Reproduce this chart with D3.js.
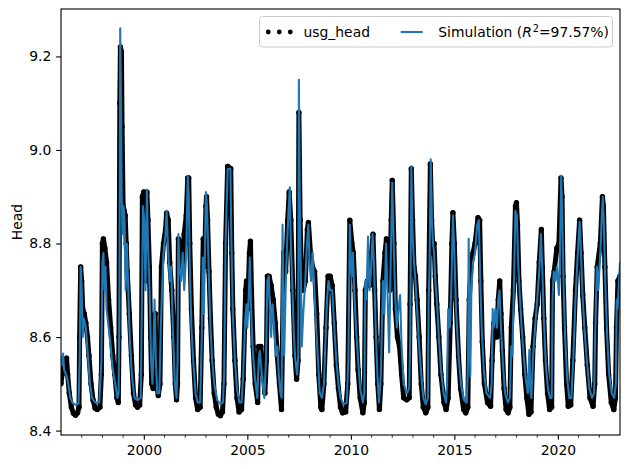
<!DOCTYPE html>
<html>
<head>
<script src="https://cdnjs.cloudflare.com/ajax/libs/d3/7.8.5/d3.min.js"></script>
<style>
  body { margin: 0; background: #fff; }
  svg { display: block; font-family: "DejaVu Sans", sans-serif; }
</style>
</head>
<body>
<div id="vis"></div>
<script>
const obsYear = [
  1996.00,1996.05,1996.12,1996.20,1996.27,1996.32,1996.40,1996.50,1996.60,1996.70,1996.80,1996.87,1996.90,1996.95,
  1997.00,1997.05,1997.12,1997.20,1997.28,1997.35,1997.45,1997.55,1997.65,1997.75,1997.88,1997.95,
  1998.00,1998.05,1998.12,1998.20,1998.30,1998.40,1998.50,1998.60,1998.70,1998.77,1998.80,1998.84,1998.87,1998.92,1998.95,
  1999.00,1999.05,1999.10,1999.15,1999.20,1999.30,1999.40,1999.50,1999.60,1999.70,1999.80,1999.88,1999.93,
  2000.00,2000.05,2000.10,2000.15,2000.20,2000.27,2000.33,2000.38,2000.45,2000.50,2000.55,2000.60,2000.70,2000.78,2000.85,2000.95,
  2001.05,2001.10,2001.18,2001.25,2001.35,2001.45,2001.52,2001.58,2001.63,2001.67,2001.75,2001.85,2001.95,
  2002.05,2002.12,2002.17,2002.22,2002.30,2002.40,2002.50,2002.60,2002.72,2002.80,2002.87,2002.93,
  2003.00,2003.03,2003.08,2003.15,2003.22,2003.30,2003.40,2003.50,2003.60,2003.70,2003.80,2003.87,2003.95,
  2004.05,2004.20,2004.25,2004.30,2004.40,2004.50,2004.60,2004.72,2004.80,2004.92,2004.96,
  2005.02,2005.10,2005.15,2005.20,2005.28,2005.38,2005.50,2005.55,2005.65,2005.75,2005.85,2005.92,2005.97,
  2006.05,2006.15,2006.25,2006.35,2006.45,2006.55,2006.65,2006.70,2006.75,2006.85,2006.95,
  2007.02,2007.10,2007.20,2007.30,2007.38,2007.45,2007.49,2007.55,2007.62,2007.70,2007.80,2007.90,2007.95,
  2008.05,2008.15,2008.25,2008.35,2008.45,2008.55,2008.60,2008.70,2008.80,2008.90,
  2009.00,2009.10,2009.20,2009.30,2009.40,2009.50,2009.60,2009.75,2009.85,2009.95,
  2010.05,2010.12,2010.20,2010.28,2010.35,2010.45,2010.58,2010.65,2010.70,2010.80,2010.90,
  2011.00,2011.07,2011.15,2011.22,2011.30,2011.38,2011.45,2011.55,2011.65,2011.72,2011.80,2011.88,2011.95,
  2012.00,2012.08,2012.15,2012.25,2012.35,2012.45,2012.55,2012.70,2012.82,2012.86,2012.92,2012.98,
  2013.05,2013.12,2013.20,2013.30,2013.40,2013.50,2013.62,2013.72,2013.76,2013.84,2013.90,2013.97,
  2014.02,2014.08,2014.15,2014.25,2014.35,2014.50,2014.60,2014.70,2014.80,2014.88,2014.93,
  2015.00,2015.08,2015.20,2015.30,2015.45,2015.55,2015.65,2015.72,2015.80,2015.90,
  2016.00,2016.14,2016.22,2016.28,2016.35,2016.45,2016.60,2016.75,2016.82,2016.90,2016.98,
  2017.05,2017.12,2017.19,2017.25,2017.32,2017.40,2017.50,2017.60,2017.68,2017.75,2017.85,2017.95,
  2018.00,2018.05,2018.12,2018.20,2018.30,2018.40,2018.50,2018.60,2018.70,2018.80,2018.90,
  2019.00,2019.10,2019.20,2019.25,2019.32,2019.40,2019.50,2019.60,2019.70,2019.74,2019.82,2019.95,
  2020.05,2020.15,2020.20,2020.25,2020.32,2020.42,2020.50,2020.62,2020.72,2020.85,2020.95,
  2021.05,2021.12,2021.20,2021.30,2021.42,2021.55,2021.70,2021.78,2021.82,2021.90,
  2022.05,2022.15,2022.20,2022.27,2022.35,2022.45,2022.58,2022.70,2022.78,2022.83,2022.90,2023.00
];
const obsHead = [
  8.50,8.52,8.54,8.55,8.555,8.52,8.48,8.45,8.437,8.433,8.438,8.45,8.60,8.75,
  8.72,8.66,8.65,8.63,8.60,8.56,8.50,8.465,8.448,8.445,8.45,8.52,
  8.80,8.81,8.79,8.76,8.68,8.62,8.56,8.52,8.47,8.46,8.60,9.10,9.22,9.21,9.05,
  8.88,8.87,8.86,8.80,8.74,8.65,8.56,8.48,8.455,8.45,8.455,8.52,8.90,
  8.91,8.80,8.72,8.91,8.85,8.75,8.60,8.50,8.49,8.64,8.65,8.50,8.475,8.50,8.75,8.80,
  8.83,8.865,8.85,8.76,8.70,8.60,8.50,8.466,8.50,8.81,8.80,8.75,8.82,
  8.86,8.94,8.94,8.80,8.66,8.55,8.47,8.445,8.45,8.62,8.81,8.75,
  8.88,8.90,8.85,8.74,8.64,8.55,8.48,8.45,8.435,8.432,8.44,8.50,8.80,
  8.965,8.96,8.78,8.66,8.55,8.47,8.44,8.445,8.51,8.70,8.72,
  8.66,8.78,8.805,8.70,8.58,8.50,8.46,8.58,8.58,8.53,8.48,8.55,8.73,
  8.73,8.71,8.68,8.63,8.56,8.50,8.445,8.60,8.78,8.74,8.85,
  8.91,8.85,8.70,8.56,8.51,8.55,9.08,8.85,8.72,8.70,8.72,8.83,8.845,
  8.78,8.75,8.74,8.65,8.52,8.45,8.445,8.50,8.62,8.73,
  8.73,8.71,8.63,8.54,8.49,8.45,8.438,8.44,8.50,8.85,
  8.80,8.78,8.70,8.60,8.53,8.47,8.438,8.46,8.70,8.72,8.71,
  8.78,8.82,8.70,8.60,8.50,8.445,8.50,8.72,8.78,8.81,8.78,8.70,8.85,
  8.935,8.80,8.66,8.60,8.58,8.52,8.47,8.466,8.47,8.67,8.96,8.85,
  8.75,8.73,8.68,8.60,8.50,8.45,8.438,8.45,8.70,8.97,8.85,8.78,
  8.80,8.73,8.67,8.60,8.52,8.46,8.445,8.47,8.63,8.80,8.866,
  8.80,8.68,8.56,8.49,8.445,8.438,8.45,8.68,8.75,8.78,
  8.80,8.855,8.85,8.72,8.59,8.50,8.46,8.452,8.55,8.63,8.62,
  8.60,8.68,8.72,8.65,8.57,8.49,8.445,8.438,8.45,8.62,8.70,8.88,
  8.887,8.84,8.72,8.66,8.60,8.52,8.47,8.435,8.44,8.58,8.64,
  8.67,8.76,8.83,8.75,8.64,8.55,8.48,8.445,8.45,8.72,8.74,8.79,
  8.80,8.94,8.90,8.73,8.62,8.50,8.452,8.455,8.55,8.70,8.78,
  8.85,8.78,8.69,8.62,8.54,8.47,8.452,8.50,8.63,8.75,
  8.80,8.90,8.88,8.75,8.62,8.52,8.46,8.445,8.47,8.62,8.72,8.73
];

// simulated head (decimal year, value)
const simYear = [
  1996.00,1996.05,1996.10,1996.15,1996.25,1996.35,1996.45,1996.55,1996.70,1996.85,1996.90,1996.95,
  1997.00,1997.05,1997.10,1997.20,1997.30,1997.40,1997.50,1997.65,1997.85,1997.95,
  1998.00,1998.05,1998.10,1998.15,1998.20,1998.30,1998.40,1998.50,1998.62,1998.72,1998.78,1998.82,1998.86,1998.90,1998.93,1998.98,
  1999.02,1999.07,1999.12,1999.18,1999.25,1999.32,1999.42,1999.55,1999.70,1999.85,1999.90,1999.96,
  2000.02,2000.08,2000.15,2000.20,2000.28,2000.35,2000.42,2000.48,2000.52,2000.58,2000.65,2000.75,2000.82,2000.88,2000.95,
  2001.05,2001.10,2001.18,2001.25,2001.32,2001.40,2001.50,2001.58,2001.63,2001.67,2001.72,2001.80,2001.88,2001.95,
  2002.05,2002.12,2002.17,2002.22,2002.30,2002.40,2002.50,2002.60,2002.72,2002.80,2002.85,2002.90,2002.95,
  2003.00,2003.05,2003.10,2003.15,2003.22,2003.30,2003.40,2003.55,2003.70,2003.82,2003.88,2003.95,
  2004.05,2004.18,2004.24,2004.30,2004.40,2004.50,2004.62,2004.72,2004.80,2004.90,2004.96,
  2005.00,2005.08,2005.12,2005.18,2005.25,2005.35,2005.48,2005.55,2005.60,2005.68,2005.75,2005.82,2005.90,2005.97,
  2006.03,2006.10,2006.15,2006.22,2006.30,2006.38,2006.45,2006.52,2006.60,2006.66,2006.70,2006.74,2006.78,2006.85,2006.92,2006.98,
  2007.05,2007.10,2007.18,2007.25,2007.32,2007.40,2007.46,2007.49,2007.53,2007.58,2007.63,2007.70,2007.80,2007.88,2007.95,
  2008.00,2008.08,2008.15,2008.22,2008.30,2008.40,2008.50,2008.60,2008.70,2008.78,2008.85,2008.92,
  2009.00,2009.10,2009.20,2009.30,2009.40,2009.50,2009.65,2009.80,2009.88,2009.95,
  2010.00,2010.05,2010.10,2010.18,2010.25,2010.35,2010.45,2010.58,2010.65,2010.70,2010.75,2010.83,2010.90,2010.97,
  2011.05,2011.12,2011.20,2011.28,2011.36,2011.45,2011.55,2011.62,2011.70,2011.78,2011.85,2011.92,
  2012.00,2012.08,2012.15,2012.22,2012.30,2012.38,2012.45,2012.55,2012.70,2012.82,2012.87,2012.92,2012.98,
  2013.05,2013.12,2013.20,2013.30,2013.40,2013.50,2013.62,2013.72,2013.76,2013.80,2013.86,2013.92,2013.97,
  2014.02,2014.08,2014.15,2014.25,2014.35,2014.48,2014.60,2014.65,2014.70,2014.78,2014.85,2014.93,
  2015.00,2015.08,2015.20,2015.32,2015.45,2015.60,2015.66,2015.69,2015.73,2015.77,2015.82,2015.90,
  2016.00,2016.10,2016.18,2016.25,2016.32,2016.42,2016.55,2016.72,2016.80,2016.85,2016.90,2016.98,
  2017.05,2017.12,2017.18,2017.25,2017.35,2017.45,2017.58,2017.68,2017.75,2017.80,2017.88,2017.95,
  2018.02,2018.08,2018.15,2018.25,2018.35,2018.45,2018.55,2018.62,2018.66,2018.72,2018.80,2018.90,
  2019.00,2019.10,2019.18,2019.25,2019.32,2019.42,2019.52,2019.62,2019.70,2019.74,2019.80,2019.88,2019.95,
  2020.05,2020.10,2020.16,2020.22,2020.28,2020.35,2020.45,2020.55,2020.65,2020.75,2020.85,2020.95,
  2021.05,2021.10,2021.18,2021.28,2021.40,2021.52,2021.65,2021.75,2021.80,2021.88,2021.95,
  2022.05,2022.12,2022.17,2022.22,2022.30,2022.38,2022.48,2022.60,2022.72,2022.80,2022.84,2022.88,2022.93,2023.00
];
const simHead = [
  8.56,8.54,8.565,8.53,8.52,8.50,8.47,8.46,8.455,8.458,8.55,8.75,
  8.70,8.60,8.64,8.62,8.56,8.50,8.47,8.46,8.46,8.55,
  8.76,8.78,8.70,8.75,8.66,8.62,8.58,8.53,8.50,8.47,8.48,8.65,9.26,9.10,8.90,8.82,
  8.88,8.85,8.70,8.80,8.70,8.60,8.52,8.47,8.465,8.47,8.65,8.88,
  8.85,8.70,8.915,8.80,8.70,8.55,8.50,8.60,8.68,8.55,8.48,8.48,8.62,8.70,8.78,
  8.82,8.87,8.78,8.72,8.75,8.62,8.50,8.47,8.55,8.82,8.75,8.72,8.78,8.70,
  8.78,8.945,8.90,8.75,8.62,8.54,8.48,8.46,8.46,8.60,8.77,8.65,8.78,
  8.91,8.88,8.80,8.72,8.62,8.55,8.50,8.465,8.456,8.46,8.52,8.80,
  8.96,8.96,8.78,8.65,8.55,8.49,8.46,8.46,8.52,8.64,8.67,
  8.62,8.70,8.77,8.66,8.58,8.52,8.47,8.55,8.57,8.53,8.50,8.47,8.55,8.72,
  8.73,8.65,8.60,8.67,8.62,8.56,8.58,8.52,8.48,8.47,8.84,8.70,8.56,8.70,8.80,8.86,
  8.92,8.80,8.70,8.60,8.55,8.52,8.56,9.15,8.90,8.75,8.58,8.65,8.72,8.80,8.84,
  8.76,8.72,8.78,8.72,8.64,8.56,8.48,8.47,8.50,8.60,8.68,8.72,
  8.70,8.70,8.62,8.55,8.50,8.47,8.456,8.46,8.55,8.84,
  8.76,8.73,8.78,8.68,8.62,8.55,8.49,8.46,8.48,8.72,8.68,8.815,8.70,8.74,
  8.82,8.75,8.62,8.52,8.46,8.52,8.72,8.65,8.80,8.68,8.567,8.75,
  8.93,8.78,8.68,8.62,8.66,8.69,8.58,8.50,8.48,8.49,8.60,8.965,8.82,
  8.76,8.72,8.66,8.58,8.52,8.47,8.456,8.47,8.68,8.75,8.98,8.84,8.80,
  8.78,8.72,8.68,8.60,8.53,8.48,8.46,8.50,8.66,8.62,8.70,8.86,
  8.78,8.66,8.56,8.50,8.466,8.46,8.55,8.81,8.70,8.516,8.70,8.76,
  8.78,8.84,8.85,8.72,8.62,8.53,8.48,8.47,8.50,8.66,8.62,8.66,
  8.62,8.68,8.70,8.62,8.54,8.48,8.46,8.47,8.58,8.56,8.72,8.87,
  8.86,8.76,8.70,8.62,8.56,8.51,8.48,8.573,8.50,8.47,8.56,8.62,
  8.68,8.74,8.82,8.74,8.64,8.54,8.49,8.47,8.47,8.68,8.74,8.72,8.75,
  8.69,8.78,8.945,8.84,8.70,8.60,8.51,8.47,8.47,8.56,8.68,8.77,
  8.847,8.80,8.70,8.62,8.55,8.49,8.47,8.48,8.60,8.75,8.70,
  8.78,8.86,8.90,8.84,8.70,8.60,8.52,8.48,8.47,8.50,8.68,8.66,8.70,8.76
];

const xTicks = [2000, 2005, 2010, 2015, 2020];
const yTicks = [8.4, 8.6, 8.8, 9.0, 9.2];
const obsName = "usg_head";
const r2Text = "=97.57%)";

const width = 630, height = 469;
const margin = {left: 61, right: 10, top: 9, bottom: 34};
const fontSize = 13.9;
const blue = "#1f77b4";

const obs = obsYear.map((t, i) => ({t: t, v: obsHead[i]}));
const sim = simYear.map((t, i) => ({t: t, v: simHead[i]}));

const svg = d3.select("#vis").append("svg")
    .attr("width", width)
    .attr("height", height);

const allV = obsHead.concat(simHead);
const vMin = d3.min(allV), vMax = d3.max(allV);
const pad = (vMax - vMin) * 0.05;

const x = d3.scaleLinear()
    .domain([d3.min(obsYear), d3.max(obsYear)])
    .range([margin.left, width - margin.right]);
const y = d3.scaleLinear()
    .domain([vMin - pad, vMax + pad])
    .range([height - margin.bottom, margin.top]);

svg.append("clipPath").attr("id", "plotclip")
  .append("rect")
    .attr("x", margin.left).attr("y", margin.top)
    .attr("width", width - margin.left - margin.right)
    .attr("height", height - margin.top - margin.bottom);

const plot = svg.append("g").attr("clip-path", "url(#plotclip)");

const line = d3.line().x(d => x(d.t)).y(d => y(d.v));

// observations: dense dots in the original, drawn as a thick dark band with dots
plot.append("path")
    .datum(obs)
    .attr("fill", "none")
    .attr("stroke", "#000")
    .attr("stroke-width", 5)
    .attr("stroke-linejoin", "round")
    .attr("d", line);
plot.append("g").selectAll("circle")
    .data(obs)
    .join("circle")
    .attr("cx", d => x(d.t))
    .attr("cy", d => y(d.v))
    .attr("r", 2.7)
    .attr("fill", "#000");

plot.append("path")
    .datum(sim)
    .attr("fill", "none")
    .attr("stroke", blue)
    .attr("stroke-width", 2.08)
    .attr("stroke-linejoin", "round")
    .attr("d", line);

// axes
const xAxis = svg.append("g")
    .attr("transform", "translate(0," + (height - margin.bottom) + ")")
    .call(d3.axisBottom(x).tickValues(xTicks).tickFormat(d3.format("d"))
        .tickSize(4.86).tickPadding(5.5).tickSizeOuter(0));
xAxis.append("g").selectAll("line")
    .data(d3.range(1997, 2023).filter(v => !xTicks.includes(v)))
    .join("line")
    .attr("x1", d => x(d)).attr("x2", d => x(d))
    .attr("y1", 0).attr("y2", 2.78)
    .attr("stroke", "#000").attr("stroke-width", 0.8);

const yAxis = svg.append("g")
    .attr("transform", "translate(" + margin.left + ",0)")
    .call(d3.axisLeft(y).tickValues(yTicks).tickFormat(d3.format(".1f"))
        .tickSize(4.86).tickPadding(4.86).tickSizeOuter(0));

[xAxis, yAxis].forEach(g => {
  g.select(".domain").remove();
  g.selectAll(".tick line").attr("stroke-width", 1.1);
  g.selectAll("text")
    .attr("font-family", "DejaVu Sans")
    .attr("font-size", fontSize)
    .attr("fill", "#000");
});

svg.append("rect")
    .attr("x", margin.left).attr("y", margin.top)
    .attr("width", width - margin.left - margin.right)
    .attr("height", height - margin.top - margin.bottom)
    .attr("fill", "none")
    .attr("stroke", "#000")
    .attr("stroke-width", 1.1);

svg.append("text")
    .attr("transform", "translate(22," + ((margin.top + height - margin.bottom) / 2) + ") rotate(-90)")
    .attr("text-anchor", "middle")
    .attr("font-size", fontSize)
    .text("Head");

// legend
const lg = svg.append("g");
lg.append("rect")
    .attr("x", 259.5).attr("y", 16.5)
    .attr("width", 353).attr("height", 30.5)
    .attr("rx", 3)
    .attr("fill", "#fff").attr("fill-opacity", 0.8)
    .attr("stroke", "#cccccc").attr("stroke-width", 1);
lg.selectAll("circle")
    .data([268.3, 279.3, 290.3])
    .join("circle")
    .attr("cx", d => d).attr("cy", 32)
    .attr("r", 2.4).attr("fill", "#000");
lg.append("text")
    .attr("x", 303.5).attr("y", 37)
    .attr("font-size", fontSize)
    .text(obsName);
lg.append("line")
    .attr("x1", 400.7).attr("x2", 422.7)
    .attr("y1", 32).attr("y2", 32)
    .attr("stroke", blue).attr("stroke-width", 2.08);
const st = lg.append("text")
    .attr("x", 438.3).attr("y", 37)
    .attr("font-size", fontSize);
st.append("tspan").text("Simulation (");
st.append("tspan").attr("font-style", "italic").text("R");
st.append("tspan").attr("font-size", fontSize * 0.7).attr("dx", 1).attr("dy", -5.5).text("2");
st.append("tspan").attr("dy", 5.5).text(r2Text);
</script>
</body>
</html>
